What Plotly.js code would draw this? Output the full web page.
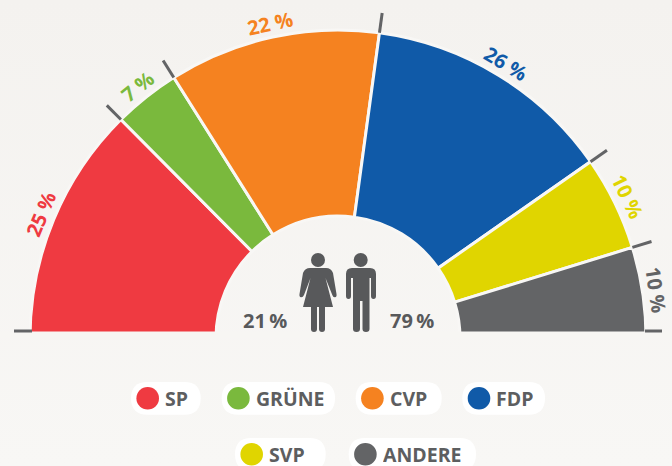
<!DOCTYPE html>
<html>
<head>
<meta charset="utf-8">
<script src="https://cdn.plot.ly/plotly-3.0.1.min.js"></script>
<style>
html, body { margin: 0; padding: 0; overflow: hidden; background: linear-gradient(#f4f2ef, #f8f7f5); }
#chart { width: 672px; height: 466px; }
</style>
</head>
<body>
<div id="chart"></div>
<script>
const parties = ['SP', 'GRÜNE', 'CVP', 'FDP', 'SVP', 'ANDERE'];
const shares = [25.1, 7, 22.2, 26.3, 9.9, 9.5];
const colors = ['#ef3a41', '#7ab93d', '#f58220', '#105aa8', '#e0d500', '#636466'];
const women = 21;
const men = 79;

const W = 672, H = 466;
const grey = '#58595b';
const font = '"Open Sans", sans-serif';

// half circle geometry, in pixels
const cx = 338, cy = 338;
const rMax = 330, rIn = 122, rOut = 308, rTickOut = 328, rLabel = 322;

const deg = v => v * 1.8;
const xp = x => x / W;
const yp = y => 1 - y / H;
// path strings are written in pixels, paper coordinates are what plotly wants
const px = path => path.replace(/(-?[\d.]+) (-?[\d.]+)/g, (m, x, y) => `${xp(+x)},${yp(+y)}`);

let sum = 0;
const starts = shares.map(v => { const s = sum; sum += v; return s; });
const mids = shares.map((v, i) => deg(starts[i] + v / 2));

const wedges = {
    type: 'barpolar',
    theta: mids,
    width: shares.map(deg),
    r: shares.map(() => rOut - rIn),
    base: shares.map(() => rIn),
    marker: { color: colors, line: { color: '#f8f7f5', width: 3 } },
    hoverinfo: 'text',
    text: parties.map((p, i) => `${p}: ${Math.round(shares[i])} %`)
};

// little grey ticks between the wedges
const tickTheta = [];
const tickR = [];
starts.slice(1).forEach(s => {
    tickTheta.push(deg(s), deg(s), null);
    tickR.push(rOut, rTickOut, null);
});
const ticks = {
    type: 'scatterpolar',
    mode: 'lines',
    theta: tickTheta,
    r: tickR,
    line: { color: colors[5], width: 3 },
    hoverinfo: 'skip'
};

// percent labels follow the arc
const annotations = shares.map((v, i) => {
    const a = mids[i] * Math.PI / 180;
    return {
        xref: 'paper', yref: 'paper',
        x: xp(cx - rLabel * Math.cos(a)),
        y: yp(cy - rLabel * Math.sin(a)),
        xanchor: 'center', yanchor: 'middle',
        text: `${Math.round(v)} %`,
        textangle: mids[i] - 90,
        showarrow: false,
        font: { family: font, size: 20, weight: 700, color: colors[i] }
    };
});

const centerLabel = (text, x) => ({
    xref: 'paper', yref: 'paper', x: xp(x), y: yp(320),
    xanchor: 'center', yanchor: 'middle', text, showarrow: false,
    font: { family: font, size: 20, weight: 700, color: grey }
});
annotations.push(centerLabel(`${women}\u2009%`, 265), centerLabel(`${men}\u2009%`, 412));

const shapes = [
    // hides the bottom of the wedges below the baseline
    { type: 'rect', xref: 'paper', yref: 'paper', x0: 0, x1: 1, y0: yp(338.5), y1: yp(331.5), fillcolor: '#f7f6f3', line: { width: 0 }, layer: 'above' },
    { type: 'line', xref: 'paper', yref: 'paper', x0: xp(14), x1: xp(32), y0: yp(331), y1: yp(331), line: { color: colors[5], width: 3 } },
    { type: 'line', xref: 'paper', yref: 'paper', x0: xp(645), x1: xp(662), y0: yp(331), y1: yp(331), line: { color: colors[5], width: 3 } }
];

const circle = (x, y, r, color) => ({
    type: 'circle', xref: 'paper', yref: 'paper',
    x0: xp(x - r), x1: xp(x + r), y0: yp(y + r), y1: yp(y - r),
    fillcolor: color, line: { width: 0 }
});
const icon = path => ({ type: 'path', xref: 'paper', yref: 'paper', path: px(path), fillcolor: grey, line: { width: 0 } });

// woman and man
shapes.push(
    circle(318, 260, 7, grey),
    icon('M310 268 L326 268 Q331 268 333 273 L336.5 294 Q337 297 335 297.3 Q333 297.5 332.3 295 L325.5 278 L333 307 L303 307 L310.5 278 L304 295 Q303 297.5 301 297.3 Q299 297 299.5 294 L303 273 Q305 268 310 268 Z'),
    icon('M311 305 L317 305 L317 329 Q317 332 314 332 Q311 332 311 329 Z'),
    icon('M319 305 L325 305 L325 329 Q325 332 322 332 Q319 332 319 329 Z'),
    circle(360.7, 260, 7, grey),
    icon('M352 268 L370 268 Q376 268 376 274 L376 296 Q376 299 373.5 299 Q371 299 371 296 L371 278 L369.5 278 L369.5 329 Q369.5 332 366 332 Q362.5 332 362.5 329 L362.5 301 L360 301 L360 329 Q360 332 356.5 332 Q353 332 353 329 L353 278 L351 278 L351 296 Q351 299 348.5 299 Q346 299 346 296 L346 274 Q346 268 352 268 Z')
);

// legend is made of white pills: left edge, right edge, row centre
const pillLeft = [131, 221.7, 355.7, 462.3, 235, 348.7];
const pillRight = [200.7, 335, 441.7, 545, 325.7, 476];
const pillY = [398.3, 398.3, 398.3, 398.3, 454.3, 454.3];
const pillR = 16.4;

parties.forEach((p, i) => {
    const l = pillLeft[i], r = pillRight[i], y = pillY[i], k = pillR;
    shapes.push({
        type: 'path', xref: 'paper', yref: 'paper', fillcolor: '#ffffff', line: { width: 0 },
        path: px(`M${l + k} ${y - k} L${r - k} ${y - k} Q${r} ${y - k} ${r} ${y} Q${r} ${y + k} ${r - k} ${y + k} L${l + k} ${y + k} Q${l} ${y + k} ${l} ${y} Q${l} ${y - k} ${l + k} ${y - k} Z`)
    });
    shapes.push(circle(l + 16.7, y, 11.3, colors[i]));
    annotations.push({
        xref: 'paper', yref: 'paper', x: xp(l + 32), y: yp(y),
        xanchor: 'left', yanchor: 'middle', text: p, showarrow: false, height: 22,
        font: { family: font, size: 19.5, weight: 700, color: '#5d5e60' }
    });
});

const layout = {
    width: W,
    height: H,
    margin: { l: 0, r: 0, t: 0, b: 0 },
    paper_bgcolor: 'rgba(0,0,0,0)',
    showlegend: false,
    polar: {
        domain: { x: [xp(cx - rMax), xp(cx + rMax)], y: [yp(cy), yp(cy - rMax)] },
        sector: [0, 180],
        bgcolor: 'rgba(0,0,0,0)',
        radialaxis: { visible: false, range: [0, rMax] },
        angularaxis: { visible: false, direction: 'clockwise', rotation: 180 }
    },
    shapes,
    annotations
};

Plotly.newPlot('chart', [wedges, ticks], layout, { displayModeBar: false });
</script>
</body>
</html>
